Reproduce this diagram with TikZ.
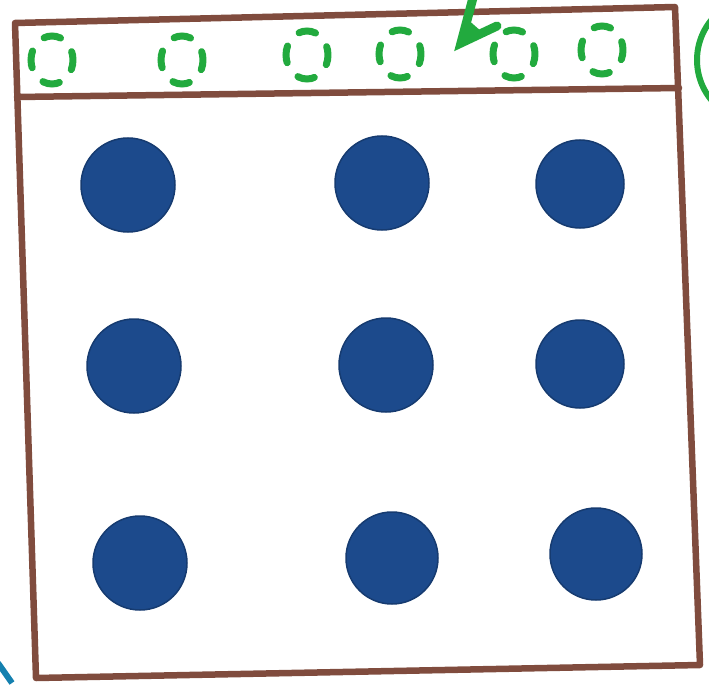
\documentclass[tikz,border=0pt]{standalone}
\usetikzlibrary{shapes.geometric}
\definecolor{bframe}{RGB}{128,76,62}
\definecolor{gmark}{RGB}{34,170,62}
\definecolor{bdot}{RGB}{28,74,140}
\begin{document}
\begin{tikzpicture}[x=1pt,y=-1pt,
  frame/.style={draw=bframe,line width=6.5pt,line cap=round,line join=round},
  seed/.style={ellipse,draw=gmark,line width=7pt,line cap=round,minimum width=42pt,minimum height=48pt,inner sep=0pt,outer sep=0pt,dash pattern=on 17pt off 18pt,dash phase=8.5pt},
  dot/.style={circle,fill=bdot,draw=bdot!80!black,line width=1.5pt,inner sep=0pt,minimum size=#1},
  gstroke/.style={draw=gmark,line width=9pt,line cap=round}]
\useasboundingbox (0,0) rectangle (709,687);
% frame
\coordinate (tl) at (15,23);
\coordinate (tr) at (675,7);
\coordinate (br) at (700,665);
\coordinate (bl) at (36,678);
\coordinate (sl) at (17,97);
\coordinate (sr) at (679,88);
\draw[frame] (tl) -- (tr) -- (br) -- (bl) -- cycle;
\draw[frame] (sl) -- (sr);
% green seeds in strip
\node[seed] (s1) at (52,60) {};
\node[seed] (s2) at (182,60) {};
\node[seed] (s3) at (307,55) {};
\node[seed] (s4) at (400,54) {};
\node[seed] (s5) at (514,54) {};
\node[seed] (s6) at (602,50) {};
% green arrow head
\coordinate (tip) at (461,43);
\coordinate (a1) at (474,-6);
\coordinate (a2) at (497,26);
\fill[gmark] (tip) -- (466,18) -- (482,32) -- cycle;
\draw[gstroke] (a1) -- (tip) -- (a2);
% green arc on right edge
\draw[draw=gmark,line width=6pt] (760,60) circle[radius=63];
% blue dots
\node[dot=94pt] (d11) at (128,185) {};
\node[dot=94pt] (d12) at (382,183) {};
\node[dot=88pt] (d13) at (580,184) {};
\node[dot=94pt] (d21) at (134,366) {};
\node[dot=94pt] (d22) at (386,365) {};
\node[dot=88pt] (d23) at (580,364) {};
\node[dot=94pt] (d31) at (140,563) {};
\node[dot=92pt] (d32) at (392,558) {};
\node[dot=92pt] (d33) at (596,554) {};
% blue stroke bottom-left
\coordinate (bs1) at (-2,663);
\coordinate (bs2) at (12,683);
\draw[draw=bdot!70!cyan,line width=6pt] (bs1) -- (bs2);
\end{tikzpicture}
\end{document}
